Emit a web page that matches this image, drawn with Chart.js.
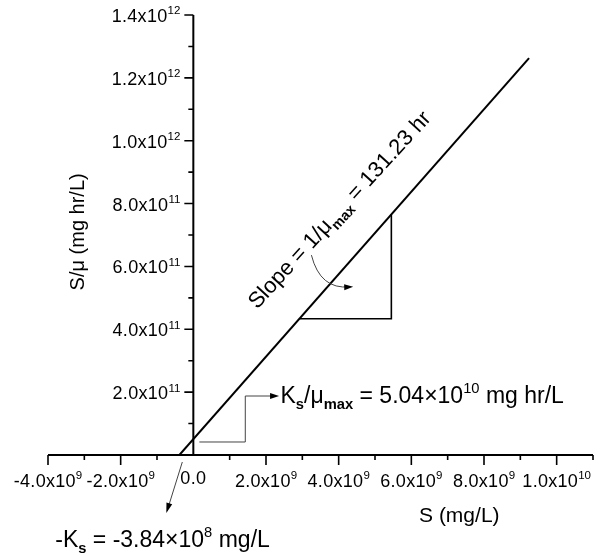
<!DOCTYPE html>
<html>
<head>
<meta charset="utf-8">
<script src="https://cdn.jsdelivr.net/npm/chart.js@4.4.0/dist/chart.umd.min.js"></script>
<style>
  html, body { margin: 0; padding: 0; background: #fff; }
  #wrap { width: 601px; height: 556px; }
</style>
</head>
<body>
<div id="wrap"><canvas id="monodChart"></canvas></div>
<script>
// Hanes-Woolf plot: S/mu against S
var fitS = [-3.84e8, 9.24e9];
var fitY = [0, 1.263e12];

var slopeS = [2.92e9, 5.45e9, 5.45e9];
var slopeY = [4.336e11, 4.336e11, 7.656e11];

var xTicks = [-4e9, -2e9, 0, 2e9, 4e9, 6e9, 8e9, 1e10];
var xTickLabels = [["-4.0x10", "9"], ["-2.0x10", "9"], ["0.0", ""], ["2.0x10", "9"],
    ["4.0x10", "9"], ["6.0x10", "9"], ["8.0x10", "9"], ["1.0x10", "10"]];
var yTicks = [2e11, 4e11, 6e11, 8e11, 1e12, 1.2e12, 1.4e12];
var yTickLabels = [["2.0x10", "11"], ["4.0x10", "11"], ["6.0x10", "11"], ["8.0x10", "11"],
    ["1.0x10", "12"], ["1.2x10", "12"], ["1.4x10", "12"]];

var FONT = "'Liberation Sans', Arial, sans-serif";

function toPoints(xs, ys) {
    return xs.map(function (x, i) { return { x: x, y: ys[i] }; });
}

// draws a run of text pieces, some raised or lowered
function richText(ctx, parts, x, y, size, align, spacing) {
    var pieces = parts.map(function (p) {
        var s = p.mode ? size * 0.64 : size;
        var f = (p.bold ? "bold " : "") + s + "px " + FONT;
        ctx.font = f;
        ctx.letterSpacing = (p.mode ? 0 : (spacing || 0)) + "px";
        return { t: p.t, f: f, w: ctx.measureText(p.t).width, mode: p.mode, ls: ctx.letterSpacing };
    });
    var total = pieces.reduce(function (a, p) { return a + p.w; }, 0);
    var cx = align === "right" ? x - total : align === "center" ? x - total / 2 : x;
    ctx.textAlign = "left";
    ctx.textBaseline = "alphabetic";
    pieces.forEach(function (p) {
        ctx.font = p.f;
        ctx.letterSpacing = p.ls;
        var dy = p.mode === "sup" ? -size * 0.42 : p.mode === "sub" ? size * 0.26 : 0;
        ctx.fillText(p.t, cx, y + dy);
        cx += p.w;
    });
    ctx.letterSpacing = "0px";
}

function arrowHead(ctx, fromX, fromY, toX, toY, len, half) {
    var a = Math.atan2(toY - fromY, toX - fromX);
    ctx.beginPath();
    ctx.moveTo(toX, toY);
    ctx.lineTo(toX - len * Math.cos(a) + half * Math.sin(a), toY - len * Math.sin(a) - half * Math.cos(a));
    ctx.lineTo(toX - len * Math.cos(a) - half * Math.sin(a), toY - len * Math.sin(a) + half * Math.cos(a));
    ctx.closePath();
    ctx.fill();
}

var axesAtOrigin = {
    id: "axesAtOrigin",
    afterDraw: function (chart) {
        var ctx = chart.ctx;
        var xs = chart.scales.x, ys = chart.scales.y;
        var px = function (v) { return xs.getPixelForValue(v); };
        var py = function (v) { return ys.getPixelForValue(v); };
        var x0 = px(0), y0 = py(0);
        ctx.save();
        ctx.strokeStyle = "#000";
        ctx.fillStyle = "#000";
        ctx.lineWidth = 2;

        // axis lines
        ctx.beginPath();
        ctx.moveTo(px(xs.min), y0); ctx.lineTo(px(xs.max), y0);
        ctx.moveTo(x0, py(ys.min)); ctx.lineTo(x0, py(ys.max));
        ctx.stroke();

        // x ticks, major and minor
        ctx.lineWidth = 1.6;
        ctx.beginPath();
        for (var v = -4e9; v <= 1.1e10 + 1; v += 1e9) {
            var major = xTicks.some(function (t) { return Math.abs(t - v) < 1; });
            if (Math.abs(v) < 1) continue;
            ctx.moveTo(px(v), y0); ctx.lineTo(px(v), y0 + (major ? 10 : 5));
        }
        for (var w = 1e11; w <= 1.4e12 + 1; w += 1e11) {
            var majorY = yTicks.some(function (t) { return Math.abs(t - w) < 1; });
            ctx.moveTo(x0, py(w)); ctx.lineTo(x0 - (majorY ? 9 : 5), py(w));
        }
        ctx.stroke();

        // tick labels
        xTicks.forEach(function (t, i) {
            var l = xTickLabels[i];
            var parts = [{ t: l[0] }];
            if (l[1]) parts.push({ t: l[1], mode: "sup" });
            richText(ctx, parts, px(t), y0 + (l[1] ? 32 : 29), 18, "center", 0.3);
        });
        yTicks.forEach(function (t, i) {
            var l = yTickLabels[i];
            richText(ctx, [{ t: l[0] }, { t: l[1], mode: "sup" }], x0 - 13, py(t) + 7, 18, "right", 0.3);
        });

        // axis titles
        richText(ctx, [{ t: "S (mg/L)" }], px(7.32e9), y0 + 67, 21, "center");
        ctx.save();
        ctx.translate(x0 - 109, py(7.1e11));
        ctx.rotate(-Math.PI / 2);
        richText(ctx, [{ t: "S/\u03bc (mg hr/L)" }], 0, 0, 20, "center");
        ctx.restore();

        // slope label, parallel to the fit line
        ctx.save();
        ctx.translate(px(4.05e9), py(7.89e11));
        ctx.rotate(-47.5 * Math.PI / 180);
        ctx.translate(-132, 8);
        richText(ctx, [{ t: "Slope = 1/\u03bc" }, { t: "max", mode: "sub", bold: true },
            { t: " = 131.23 hr" }], 0, 0, 22, "left");
        ctx.restore();

        ctx.strokeStyle = "#444";
        ctx.fillStyle = "#000";
        ctx.lineWidth = 1;

        // curved pointer to the slope triangle
        ctx.beginPath();
        ctx.moveTo(px(3.25e9), py(6.36e11));
        ctx.quadraticCurveTo(px(3.49e9), py(5.26e11), px(4.3e9), py(5.35e11));
        ctx.stroke();
        arrowHead(ctx, px(3.9e9), py(5.33e11), px(4.4e9), py(5.35e11), 9, 3);

        // intercept pointer
        ctx.beginPath();
        ctx.moveTo(px(0.165e9), py(0.414e11));
        ctx.lineTo(px(1.43e9), py(0.414e11));
        ctx.lineTo(px(1.43e9), py(1.877e11));
        ctx.lineTo(px(2.2e9), py(1.877e11));
        ctx.stroke();
        arrowHead(ctx, px(1.8e9), py(1.877e11), px(2.36e9), py(1.877e11), 9, 3);
        richText(ctx, [{ t: "K" }, { t: "s", mode: "sub", bold: true }, { t: "/\u03bc" },
            { t: "max", mode: "sub", bold: true }, { t: " = 5.04\u00d710" }, { t: "10", mode: "sup" },
            { t: " mg hr/L" }], px(2.4e9), py(1.655e11), 23, "left");

        // x intercept pointer
        ctx.beginPath();
        ctx.moveTo(px(-0.303e9), py(-0.223e11));
        ctx.lineTo(px(-0.72e9), py(-1.77e11));
        ctx.stroke();
        arrowHead(ctx, px(-0.303e9), py(-0.223e11), px(-0.743e9), py(-1.845e11), 10, 3);
        richText(ctx, [{ t: "-K" }, { t: "s", mode: "sub", bold: true }, { t: " = -3.84\u00d710" },
            { t: "8", mode: "sup" }, { t: " mg/L" }], px(-3.8e9), py(-2.927e11), 23, "left");

        ctx.restore();
    }
};

var monodChart = new Chart(document.getElementById("monodChart").getContext("2d"), {
    type: "scatter",
    data: {
        datasets: [
            {
                label: "Fit",
                data: toPoints(fitS, fitY),
                showLine: true,
                borderColor: "#000",
                borderWidth: 2,
                pointRadius: 0,
            },
            {
                label: "Slope",
                data: toPoints(slopeS, slopeY),
                showLine: true,
                borderColor: "#000",
                borderWidth: 1.6,
                pointRadius: 0,
            },
        ],
    },
    options: {
        responsive: true,
        maintainAspectRatio: false,
        devicePixelRatio: 1,
        animation: false,
        layout: {
            padding: { left: 48, right: 8, top: 15, bottom: 101 },
        },
        scales: {
            x: { type: "linear", min: -4e9, max: 1.1e10, display: false },
            y: { type: "linear", min: 0, max: 1.4e12, display: false },
        },
        plugins: {
            legend: { display: false },
            tooltip: { enabled: false },
        },
    },
    plugins: [axesAtOrigin],
});
</script>
</body>
</html>
